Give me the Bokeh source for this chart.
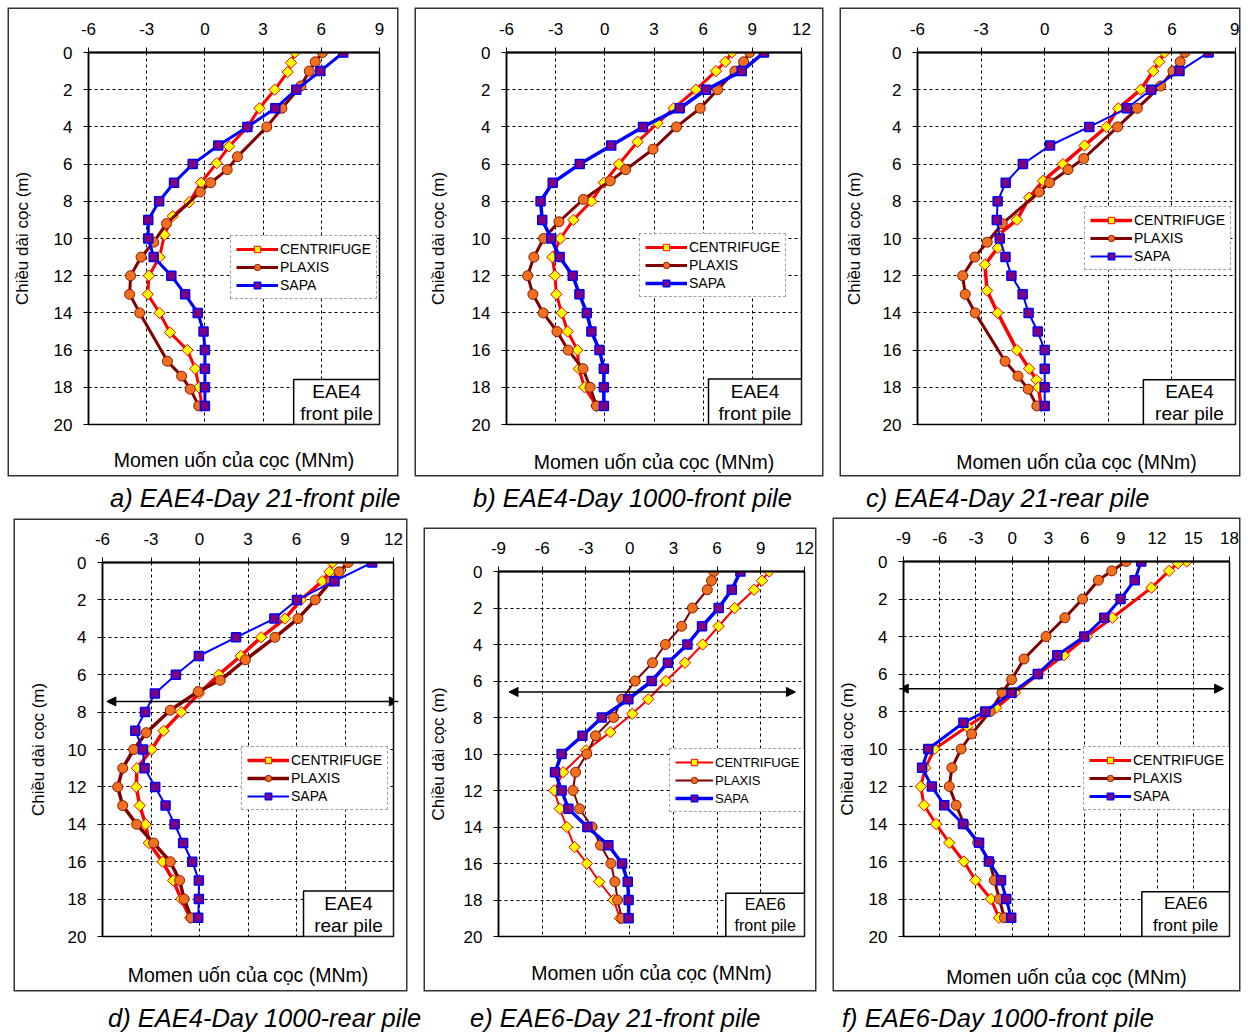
from bokeh.plotting import figure
from bokeh.models import (Range1d, LinearAxis, FixedTicker, Legend, LegendItem,
                          BoxAnnotation, Label, Arrow, NormalHead, Div)
from bokeh.layouts import row, column
from bokeh.embed import file_html
from bokeh.resources import INLINE

FONT = "Liberation Sans"
SERIES = ["CENTRIFUGE", "PLAXIS", "SAPA"]
Y_LABEL = "Chiều dài cọc (m)"
X_LABEL = "Momen uốn của cọc (MNm)"
Y_TICKS = [0, 2, 4, 6, 8, 10, 12, 14, 16, 18, 20]
CAPTIONS = ["a) EAE4-Day 21-front pile", "b) EAE4-Day 1000-front pile", "c) EAE4-Day 21-rear pile",
            "d) EAE4-Day 1000-rear pile", "e) EAE6-Day 21-front pile", "f) EAE6-Day 1000-front pile"]
TAGS = [("EAE4", "front pile"), ("EAE4", "front pile"), ("EAE4", "rear pile"),
        ("EAE4", "rear pile"), ("EAE6", "front pile"), ("EAE6", "front pile")]
X_RANGES = [(-6, 9), (-6, 12), (-6, 9), (-6, 12), (-9, 12), (-9, 18)]
SAPA_DEPTH = [0, 1, 2, 3, 4, 5, 6, 7, 8, 9, 10, 11, 12, 13, 14, 15, 16, 17, 18, 19]

# ---- panel a ----
a_cent_depth = [0, 0.55, 1.05, 2, 3, 4, 5.05, 5.95, 7, 8.05, 8.8, 9.8, 11, 12, 13, 14, 15.05, 16, 17, 18, 19]
a_cent = [4.64, 4.44, 4.27, 3.6, 2.81, 2.2, 1.25, 0.61, -0.2, -0.81, -1.66, -2.08, -2.34, -2.88, -2.95, -2.34, -1.8, -0.9, -0.5, -0.3, -0.15]
a_plx_depth = [0, 0.5, 1, 1.8, 3, 4, 5.6, 6.3, 7, 7.5, 9.2, 10.2, 11, 12, 13, 14, 16.6, 17.4, 18.1, 19]
a_plx = [6.06, 5.69, 5.38, 4.95, 3.97, 3.19, 1.68, 1.15, 0.3, -0.24, -1.98, -2.64, -3.29, -3.83, -3.88, -3.36, -1.93, -1.2, -0.75, -0.32]
a_sapa = [7.13, 5.95, 4.71, 3.63, 2.19, 0.69, -0.63, -1.59, -2.36, -2.92, -2.92, -2.64, -1.73, -1.02, -0.37, -0.07, 0, 0, 0, 0]

# ---- panel b ----
b_cent_depth = [0, 0.5, 1, 2, 3, 3.8, 4.8, 6, 7, 8, 9, 10, 11, 12, 13, 14, 15, 16, 17, 18, 19]
b_cent = [7.76, 7.35, 6.78, 5.55, 4.2, 3.22, 2.0, 0.86, -0.06, -0.82, -1.92, -2.71, -3.2, -3.04, -2.96, -2.63, -2.27, -1.67, -1.59, -1.24, -0.51]
b_plx_depth = [0, 0.5, 1, 2, 3, 4, 5.2, 6.3, 6.9, 7.9, 9.1, 10, 11, 12, 13, 14, 15, 16, 17, 18, 19]
b_plx = [8.84, 8.47, 7.94, 6.88, 5.82, 4.37, 2.94, 1.27, 0.33, -1.31, -2.8, -3.73, -4.33, -4.71, -4.39, -3.76, -2.92, -2.24, -1.33, -0.9, -0.51]
b_sapa = [9.71, 8.35, 6.18, 4.57, 2.33, 0.39, -1.53, -3.18, -3.92, -3.82, -3.27, -2.76, -1.96, -1.55, -1.1, -0.82, -0.33, -0.06, -0.06, -0.06]

# ---- panel c ----
c_cent_depth = [0, 0.5, 1, 2, 3, 4, 5, 6, 6.9, 7.8, 9, 9.8, 10.5, 11.4, 12.8, 14, 16, 17, 17.6, 18, 19]
c_cent = [5.65, 5.4, 5.12, 4.53, 3.47, 2.91, 1.88, 0.86, -0.08, -0.73, -1.31, -2.19, -2.21, -2.82, -2.72, -2.22, -1.31, -0.73, -0.39, -0.3, -0.16]
c_plx_depth = [0, 0.5, 1, 1.8, 3, 4, 5.7, 6.3, 7, 7.5, 9.2, 10.2, 11, 12, 13, 14, 16.6, 17.4, 18.1, 19]
c_plx = [6.61, 6.39, 6.05, 5.47, 4.37, 3.44, 1.84, 1.1, 0.23, -0.26, -2.0, -2.71, -3.3, -3.87, -3.75, -3.28, -1.87, -1.26, -0.78, -0.37]
c_sapa = [7.73, 6.36, 5.02, 3.87, 2.1, 0.25, -1.03, -1.84, -2.22, -2.26, -2.12, -1.85, -1.57, -1.04, -0.76, -0.33, 0, 0, 0, 0]

# ---- panel d ----
d_cent_depth = [0, 0.5, 1, 2, 3, 4, 5, 6, 7, 8, 9, 10, 11, 12, 13, 14, 15, 16, 17, 18, 19]
d_cent = [8.23, 8.04, 7.59, 6.27, 5.29, 3.81, 2.55, 1.19, -0.02, -1.13, -2.22, -2.96, -3.87, -3.91, -3.7, -3.33, -3.13, -2.28, -1.63, -1.13, -0.58]
d_plx_depth = [0, 0.5, 1, 2, 3, 4, 5.2, 6.3, 6.9, 7.9, 9.1, 10, 11, 12, 13, 14, 15, 16, 17, 18, 19]
d_plx = [9.2, 8.64, 8.13, 7.16, 6.09, 4.67, 2.84, 1.28, -0.08, -1.81, -3.29, -4.07, -4.75, -5.06, -4.75, -3.89, -2.84, -1.81, -1.23, -0.95, -0.51]
d_sapa = [10.68, 8.35, 6.03, 4.63, 2.26, -0.04, -1.46, -2.76, -3.37, -3.97, -3.5, -3.4, -2.74, -2.1, -1.54, -1.01, -0.45, -0.04, -0.04, -0.08]

# ---- panel e ----
e_cent_depth = [0, 0.5, 1, 2, 3, 4, 5, 6, 7, 7.8, 8.8, 9.8, 11, 12, 13, 14, 15.1, 16, 17, 18, 19]
e_cent = [9.57, 9.08, 8.54, 7.21, 6.11, 5.01, 3.8, 2.49, 1.28, 0.18, -1.33, -2.99, -4.56, -5.17, -4.79, -4.31, -3.78, -2.94, -2.09, -1.1, -0.67]
e_plx_depth = [0, 0.5, 1, 2, 3, 4, 5, 6, 7, 8, 9, 10, 11, 12, 13, 14, 15, 16, 17, 18, 19]
e_plx = [5.78, 5.62, 5.33, 4.31, 3.57, 2.45, 1.57, 0.38, -0.54, -1.1, -2.34, -2.94, -3.71, -3.89, -3.44, -2.58, -2.0, -1.28, -1.01, -0.83, -0.54]
e_sapa = [7.6, 7.01, 6.11, 4.97, 3.96, 2.63, 1.51, -0.09, -1.91, -3.24, -4.67, -5.12, -4.67, -4.2, -2.9, -1.46, -0.52, -0.13, -0.07, -0.07]

# ---- panel f ----
f_cent_depth = [0, 0.1, 0.5, 1.4, 3, 4, 5, 6, 7, 7.8, 8.8, 10, 11, 12, 13, 14, 15, 16, 17, 18, 19]
f_cent = [14.46, 13.73, 13.0, 11.53, 8.3, 6.19, 4.29, 2.2, 0.22, -1.33, -3.72, -6.43, -7.19, -7.57, -7.3, -6.3, -5.21, -4.0, -3.04, -1.76, -1.09]
f_plx_depth = [0, 0.5, 1, 2, 3, 4, 5.2, 6.3, 7, 8, 9.2, 10, 11, 12, 13, 14, 15, 16, 17, 18, 19]
f_plx = [9.44, 8.25, 7.14, 5.83, 4.37, 2.8, 0.98, -0.05, -0.84, -1.82, -3.36, -4.23, -4.99, -5.21, -4.64, -3.99, -2.85, -1.87, -1.47, -1.06, -0.65]
f_sapa_depth = [0, 1, 2, 3, 4, 5, 6, 7, 8, 8.6, 10, 11, 12, 13, 14, 15, 16, 17, 18, 19]
f_sapa = [10.69, 10.15, 8.98, 7.63, 5.97, 3.74, 2.12, -0.05, -2.23, -4.04, -6.95, -7.46, -6.65, -5.62, -4.07, -2.74, -1.93, -0.92, -0.49, -0.08]

# arrows (depth of horizontal arrow, x extent) for panels d, e, f
ARROW_DEPTH = {3: 7.43, 4: 6.6, 5: 6.78}
ARROW_X = {3: (-5.73, 12.3), 4: (-8.28, 11.38), 5: (-9.35, 17.51)}

DATA = [
    ((a_cent_depth, a_cent), (a_plx_depth, a_plx), (SAPA_DEPTH, a_sapa)),
    ((b_cent_depth, b_cent), (b_plx_depth, b_plx), (SAPA_DEPTH, b_sapa)),
    ((c_cent_depth, c_cent), (c_plx_depth, c_plx), (SAPA_DEPTH, c_sapa)),
    ((d_cent_depth, d_cent), (d_plx_depth, d_plx), (SAPA_DEPTH, d_sapa)),
    ((e_cent_depth, e_cent), (e_plx_depth, e_plx), (SAPA_DEPTH, e_sapa)),
    ((f_cent_depth, f_cent), (f_plx_depth, f_plx), (f_sapa_depth, f_sapa)),
]

# ---- layout / style (pixels) ----
# size (w,h), borders (left,right,top,bottom), margin (top,right,bottom,left)
GEOM = [
    dict(size=(388, 466), b=(75, 18, 43, 50), m=(1, 0, 1, 1)),
    dict(size=(406, 466), b=(90, 21, 39, 50), m=(1, 0, 1, 19)),
    dict(size=(398, 466), b=(73, 4, 40, 51), m=(1, 0, 1, 19)),
    dict(size=(391, 470), b=(87, 13, 42, 50), m=(2, 0, 1, 7)),
    dict(size=(390, 461), b=(68, 11, 41, 48), m=(11, 0, 1, 19)),
    dict(size=(405, 471), b=(64, 10, 42, 52), m=(1, 0, 1, 19)),
]
LEG_TL = [(142, 186), (133, 188), (167, 159), (139, 190), (171, 186), (180, 189)]
LEG_FONT = ["14px", "14px", "14px", "14px", "13px", "14px"]
LEG_GLYPH = [42, 42, 42, 42, 38, 42]
LINE_W = [(3, 3, 3), (3, 3, 3.5), (3.5, 3, 2), (3.5, 3.5, 2), (2, 2, 3.5), (3, 3, 3)]
YLAB_STANDOFF = [19, 21, 16, 17, 13, 9]
XLAB_STANDOFF = [24, 26, 26, 27, 25, 29]
TAG_FONT = ["19px", "19px", "19px", "19px", "16px", "17px"]
TAG_BOX = [(87, 45), (93, 46), (93, 45), (90, 46), (80, 44), (89, 45)]

LINE_COL = ["#FF0000", "#800000", "#0000FF"]
MK_FILL = ["#FFFF00", "#F07020", "#800080"]
MK_LINE = ["#FF0000", "#8B1A00", "#0000FF"]


def make_panel(i):
    g = GEOM[i]
    w, h = g["size"]
    bl, br, bt, bb = g["b"]
    x0, x1 = X_RANGES[i]
    fw, fh = w - bl - br, h - bt - bb
    p = figure(width=w, height=h, output_backend="svg", toolbar_location=None, tools="",
               x_range=Range1d(x0, x1), y_range=Range1d(20, 0), x_axis_location="above",
               min_border_left=bl, min_border_right=br, min_border_top=bt, min_border_bottom=bb,
               margin=g["m"], background_fill_color="white", border_fill_color="white",
               styles={"box-shadow": "0 0 0 1.5px #333"})
    p.outline_line_color = "black"
    p.outline_line_width = 1.5

    xt = list(range(x0, x1 + 1, 3))
    ax = p.xaxis[0]
    ax.ticker = FixedTicker(ticks=xt)
    ax.major_label_overrides = {t: str(t) for t in xt}
    ax.major_label_text_font = FONT
    ax.major_label_text_font_size = "17px"
    ax.major_label_text_color = "black"
    ax.major_tick_out = 5
    ax.major_tick_in = 0
    ax.minor_tick_line_color = None
    ax.axis_line_width = 2
    ax.axis_line_color = "black"
    ax.major_tick_line_color = "black"
    ax.major_label_standoff = 13

    ay = p.yaxis[0]
    ay.ticker = FixedTicker(ticks=Y_TICKS)
    ay.major_label_text_font = FONT
    ay.major_label_text_font_size = "17px"
    ay.major_label_text_color = "black"
    ay.major_tick_out = 5
    ay.major_tick_in = 0
    ay.minor_tick_line_color = None
    ay.axis_line_width = 1.5
    ay.axis_line_color = "black"
    ay.major_tick_line_color = "black"
    ay.major_label_standoff = 11
    ay.axis_label = Y_LABEL
    ay.axis_label_text_font = FONT
    ay.axis_label_text_font_size = "17px"
    ay.axis_label_text_font_style = "normal"
    ay.axis_label_text_color = "black"
    ay.axis_label_standoff = YLAB_STANDOFF[i]

    bx = LinearAxis(ticker=FixedTicker(ticks=[]), axis_label=X_LABEL,
                    axis_line_color=None, major_tick_line_color=None, minor_tick_line_color=None,
                    major_label_text_font_size="0px", axis_label_standoff=XLAB_STANDOFF[i],
                    axis_label_text_font=FONT, axis_label_text_font_size="19.5px",
                    axis_label_text_font_style="normal", axis_label_text_color="black")
    p.add_layout(bx, "below")

    for gr in (p.xgrid[0], p.ygrid[0]):
        gr.grid_line_color = "black"
        gr.grid_line_dash = "3 3"
        gr.grid_line_width = 1

    items = []
    for k, (dep, mom) in enumerate(DATA[i]):
        lr = p.line(mom, dep, line_color=LINE_COL[k], line_width=LINE_W[i][k])
        if k == 0:
            sr = p.scatter(mom, dep, marker="square", angle=0.785398, size=8,
                           fill_color=MK_FILL[k], line_color=MK_LINE[k], line_width=1)
        elif k == 1:
            sr = p.scatter(mom, dep, marker="circle", size=10,
                           fill_color=MK_FILL[k], line_color=MK_LINE[k], line_width=1)
        else:
            sr = p.scatter(mom, dep, marker="square", size=9,
                           fill_color=MK_FILL[k], line_color=MK_LINE[k], line_width=1.5)
        items.append(LegendItem(label=SERIES[k], renderers=[lr, sr]))

    if i in ARROW_DEPTH:
        xa, xb = ARROW_X[i]
        yd = ARROW_DEPTH[i]
        p.add_layout(Arrow(start=NormalHead(size=9, fill_color="black", line_color="black"),
                           end=NormalHead(size=9, fill_color="black", line_color="black"),
                           x_start=xa, y_start=yd, x_end=xb, y_end=yd,
                           line_color="black", line_width=1.5))

    # tag box at bottom-right of the frame
    bw, bh = TAG_BOX[i]
    sx = (x1 - x0) / fw
    sy = 20.0 / fh
    p.add_layout(BoxAnnotation(left=x1 - bw * sx, right=x1, top=20 - bh * sy, bottom=20,
                               fill_color="white", fill_alpha=1.0, line_color="black",
                               line_width=1.5, line_alpha=1.0))
    cx = x1 - (bw / 2.0) * sx
    t1, t2 = TAGS[i]
    p.add_layout(Label(x=cx, y=20 - 33 * sy, text=t1, text_align="center", text_baseline="middle",
                       text_font=FONT, text_font_size=TAG_FONT[i], text_color="black"))
    p.add_layout(Label(x=cx, y=20 - 11 * sy, text=t2, text_align="center", text_baseline="middle",
                       text_font=FONT, text_font_size=TAG_FONT[i], text_color="black"))

    lx, ly_top = LEG_TL[i]
    leg_h = 62
    leg = Legend(items=items, location=(lx, fh - ly_top - leg_h), margin=0, padding=5,
                 spacing=2, glyph_width=LEG_GLYPH[i], glyph_height=16, label_height=16,
                 label_standoff=2, label_text_font=FONT, label_text_font_size=LEG_FONT[i],
                 label_text_color="black",
                 border_line_color="#444", border_line_dash="2 2", border_line_width=1,
                 background_fill_color="white", background_fill_alpha=1.0)
    p.add_layout(leg)
    return p


panels = [make_panel(i) for i in range(6)]

CAP_STYLE = {"font-family": FONT, "font-style": "italic", "font-size": "25.5px",
             "line-height": "1.1", "white-space": "nowrap", "color": "black"}


def cap(i, w, h, m):
    return Div(text=CAPTIONS[i], width=w, height=h, margin=m, styles=CAP_STYLE)


cap_row1 = row(cap(0, 330, 34, (8, 0, 0, 102)), cap(1, 350, 34, (8, 0, 0, 33)),
               cap(2, 360, 34, (8, 0, 0, 43)))
cap_row2 = row(cap(3, 340, 28, (13, 0, 0, 100)), cap(4, 330, 28, (13, 0, 0, 22)),
               cap(5, 360, 28, (13, 0, 0, 42)))

page = column(row(panels[0], panels[1], panels[2]), cap_row1,
              row(panels[3], panels[4], panels[5]), cap_row2, margin=(8, 0, 0, 8))

open("out.html", "w").write(file_html(page, INLINE, title="Momen uốn của cọc"))
